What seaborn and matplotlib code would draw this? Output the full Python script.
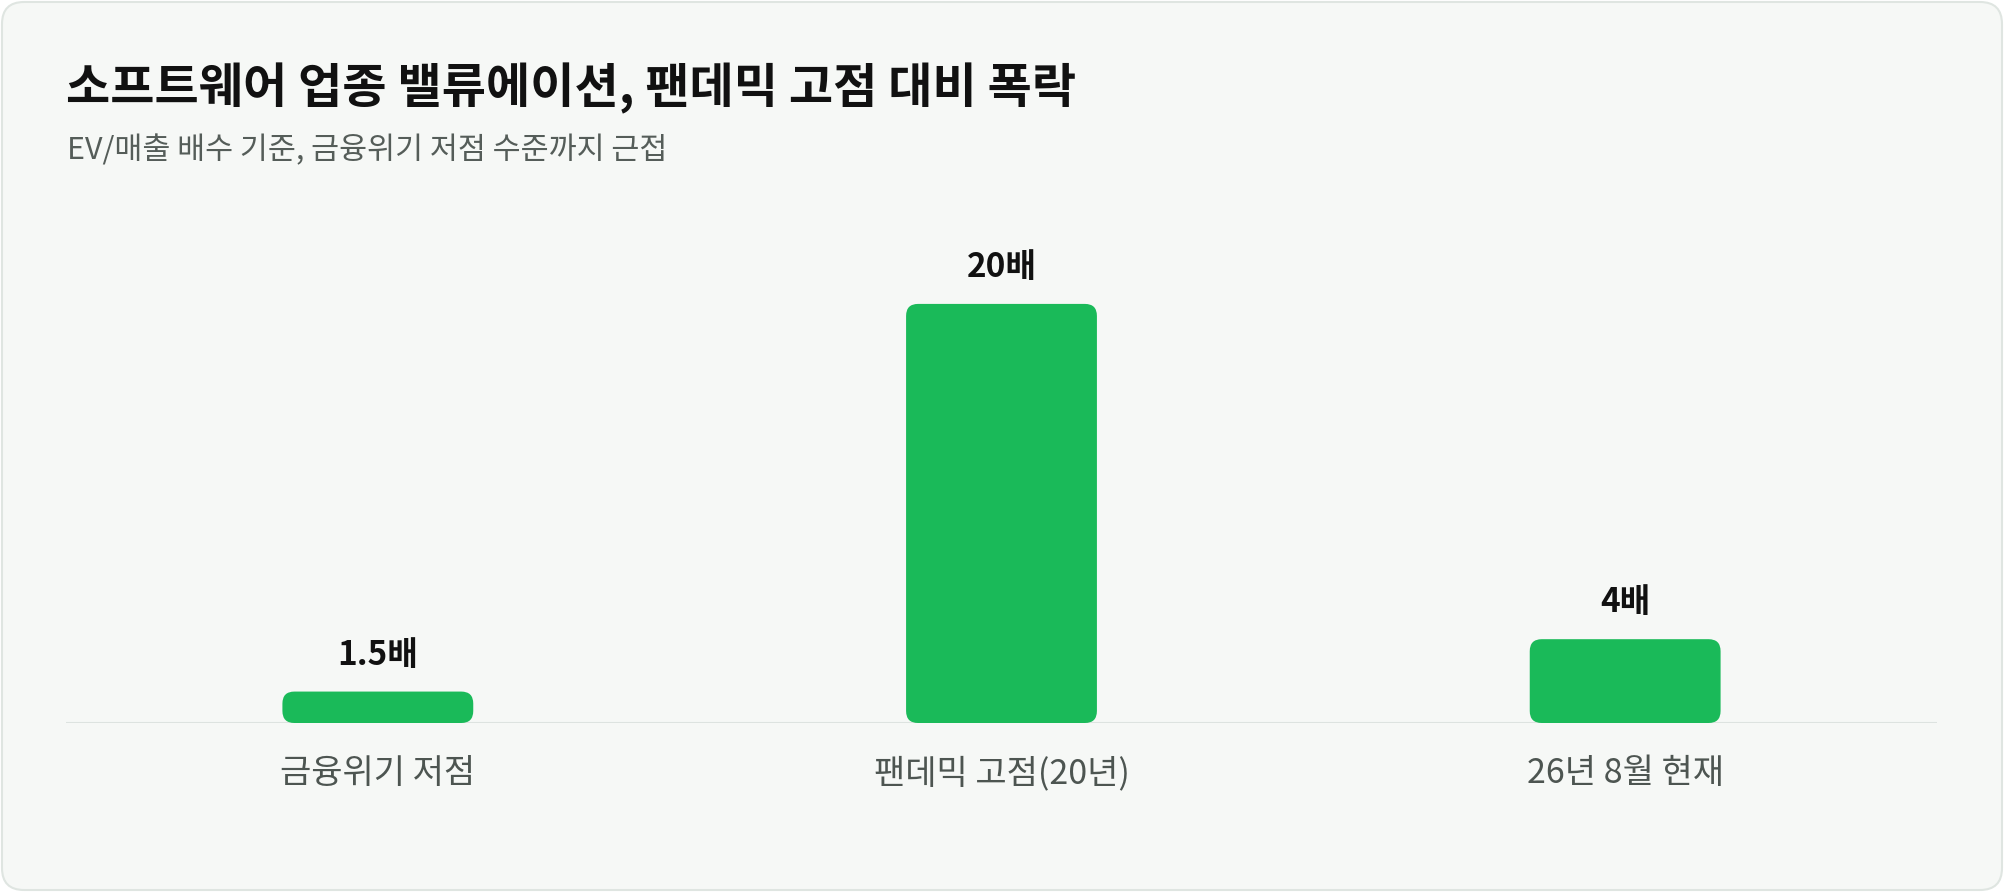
import matplotlib
matplotlib.use("Agg")
import matplotlib.pyplot as plt
import seaborn as sns
import pandas as pd
from matplotlib.patches import FancyBboxPatch

# 데이터
categories = ["금융위기 저점", "팬데믹 고점(20년)", "26년 8월 현재"]
multiples = [1.5, 20, 4]
value_labels = ["1.5배", "20배", "4배"]

title = "소프트웨어 업종 밸류에이션, 팬데믹 고점 대비 폭락"
subtitle = "EV/매출 배수 기준, 금융위기 저점 수준까지 근접"

BAR_COLOR = "#1aba59"
BG = "#f6f8f6"

sns.set_theme(style="white")
plt.rcParams["font.family"] = ["Noto Sans CJK KR", "DejaVu Sans"]

df = pd.DataFrame({"구분": categories, "배수": multiples})

fig = plt.figure(figsize=(20.04, 8.92), dpi=100)
fig.patch.set_facecolor("white")

# 카드 배경
card = FancyBboxPatch((2, 2), 2000, 888, boxstyle="round,pad=0,rounding_size=22",
                      transform=None, facecolor=BG, edgecolor="#dfe5e1", linewidth=1.5,
                      zorder=-5)
fig.patches.append(card)

ax = fig.add_axes([66 / 2004, (892 - 723) / 892, 1871 / 2004, 461 / 892])
ax.set_facecolor("none")

sns.barplot(data=df, x="구분", y="배수", color=BAR_COLOR, width=0.306,
            saturation=1, ax=ax)
ax.set_xlim(-0.5, 2.5)
ax.set_ylim(0, 22)

# 둥근 막대로 교체
px_x = ax.bbox.width / 3.0
px_y = ax.bbox.height / 22.0
radius_px = 12
for p in list(ax.patches):
    x, y = p.get_x(), p.get_y()
    w, h = p.get_width(), p.get_height()
    p.remove()
    r = min(radius_px, h * px_y / 2)
    rb = FancyBboxPatch((x, y), w, h,
                        boxstyle=f"round,pad=0,rounding_size={r / px_x}",
                        mutation_aspect=px_x / px_y,
                        facecolor=BAR_COLOR, edgecolor="none", zorder=3)
    ax.add_patch(rb)

ax.axhline(0, color="#dde3e0", linewidth=1.5, zorder=2)

for i, (v, lab) in enumerate(zip(multiples, value_labels)):
    ax.annotate(lab, (i, v), xytext=(0, 20), textcoords="offset pixels",
                ha="center", va="bottom", fontsize=24, fontweight="bold",
                color="#111111")

for s in ax.spines.values():
    s.set_visible(False)
ax.set_yticks([])
ax.set_xlabel("")
ax.set_ylabel("")
ax.tick_params(axis="x", length=0, pad=24, labelsize=24.5, labelcolor="#4d5551")

fig.text(66 / 2004, 1 - 88 / 892, title, fontsize=34.6, fontweight="bold",
         color="#111111", va="center", ha="left")
fig.text(67 / 2004, 1 - 151 / 892, subtitle, fontsize=21.9, color="#555d59",
         va="center", ha="left")

fig.savefig("out.png", dpi=100, facecolor="white")
